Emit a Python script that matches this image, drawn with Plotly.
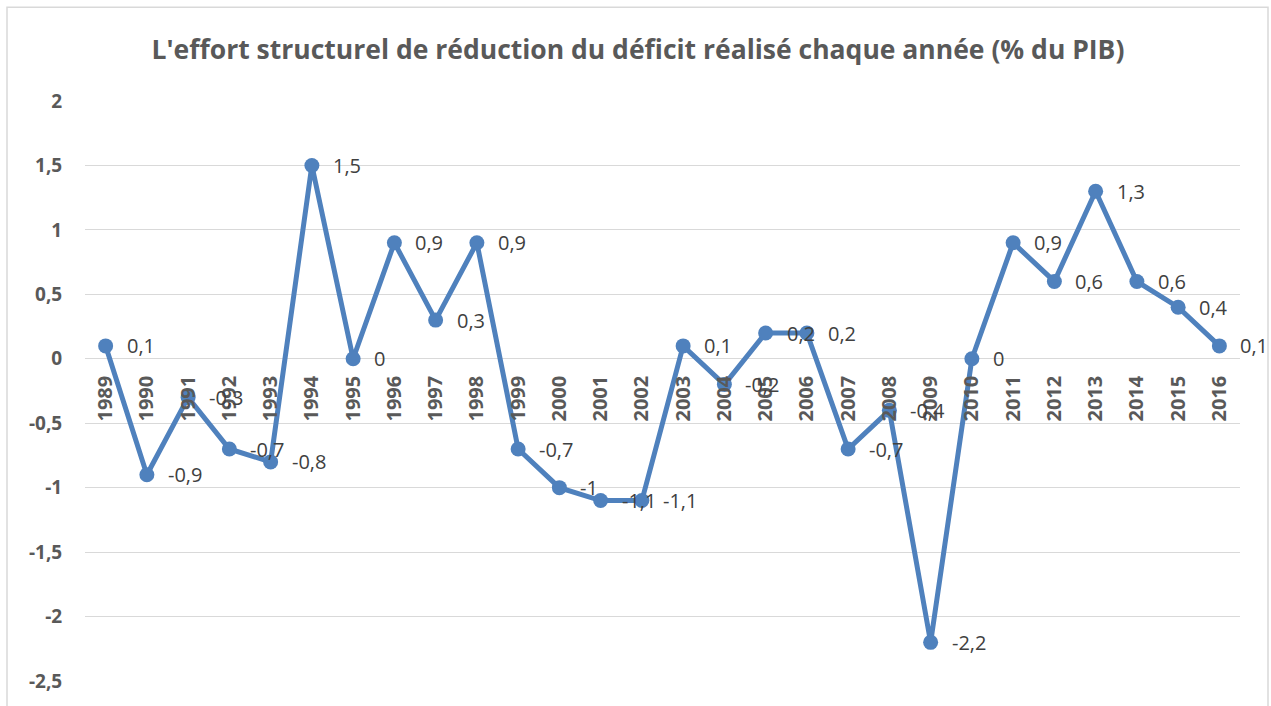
import plotly.graph_objects as go

years = [str(y) for y in range(1989, 2017)]
values = [0.1, -0.9, -0.3, -0.7, -0.8, 1.5, 0, 0.9, 0.3, 0.9, -0.7, -1, -1.1, -1.1,
          0.1, -0.2, 0.2, 0.2, -0.7, -0.4, -2.2, 0, 0.9, 0.6, 1.3, 0.6, 0.4, 0.1]
y_tickvals = [2, 1.5, 1, 0.5, 0, -0.5, -1, -1.5, -2, -2.5]
y_ticktext = ["2", "1,5", "1", "0,5", "0", "-0,5", "-1", "-1,5", "-2", "-2,5"]
title = "L'effort structurel de réduction du déficit réalisé chaque année (% du PIB)"

labels = [("%g" % v).replace(".", ",") for v in values]

W, H = 1271, 706
ml, mr, mt, mb = 85, 31, 101, 23
pw, ph = W - ml - mr, H - mt - mb
ymin, ymax = -2.5, 2

def px_to_paper_x(px):
    return (px - ml) / pw

def px_to_paper_y(py):
    return (H - mb - py) / ph

fig = go.Figure()
fig.add_trace(go.Scatter(
    x=years, y=values, mode="lines+markers",
    line=dict(color="#4f81bd", width=5),
    marker=dict(color="#4f81bd", size=15),
    cliponaxis=False, hoverinfo="skip", showlegend=False,
))

# category axis: annotation x uses the category index
annotations = [dict(x=i, y=v, text=lab, xref="x", yref="y", showarrow=False,
                    xanchor="left", yanchor="middle", xshift=19,
                    font=dict(family="Open Sans", size=20, color="#404040"))
               for i, (v, lab) in enumerate(zip(values, labels))]

zero_frac = (0 - ymin) / (ymax - ymin)

fig.update_layout(
    width=W, height=H,
    margin=dict(l=ml, r=mr, t=mt, b=mb),
    paper_bgcolor="white", plot_bgcolor="white",
    title=dict(text="<b>" + title + "</b>", x=(638 - ml) / pw, xref="paper", xanchor="center",
               y=1 - 50 / H, yanchor="middle",
               font=dict(family="Open Sans", size=26.5, color="#595959")),
    xaxis=dict(type="category", anchor="free", position=zero_frac,
               showgrid=False, showline=False, zeroline=False,
               tickangle=-90, ticks="outside", ticklen=8, tickcolor="rgba(0,0,0,0)",
               tickfont=dict(family="Open Sans", size=20, color="#595959", weight="bold"),
               range=[-0.5, len(years) - 0.5]),
    yaxis=dict(range=[ymin, ymax], tickvals=y_tickvals, ticktext=y_ticktext,
               showgrid=True, gridcolor="#d9d9d9", gridwidth=1.3, zeroline=False,
               showline=False, ticks="outside", ticklen=18, tickcolor="rgba(0,0,0,0)",
               tickfont=dict(family="Open Sans", size=19, color="#595959", weight="bold")),
    annotations=annotations,
    shapes=[dict(type="rect", xref="paper", yref="paper",
                 x0=px_to_paper_x(7), x1=px_to_paper_x(1268),
                 y0=px_to_paper_y(720), y1=px_to_paper_y(7),
                 line=dict(color="#d9d9d9", width=1.5), layer="below")],
)

fig.write_html("out.html", config={"displayModeBar": False},
               post_script="document.body.style.margin='0';document.body.style.overflow='hidden';")
